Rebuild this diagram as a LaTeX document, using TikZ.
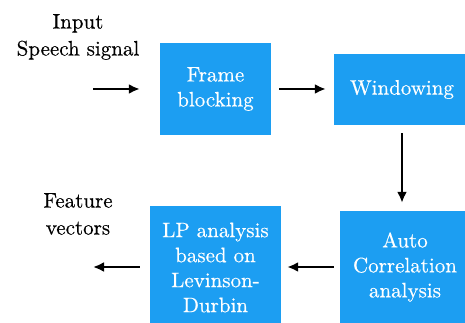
\documentclass[tikz,border=0pt]{standalone}
\usepackage{fontspec}
\newfontfamily\diagfont{lmroman10-regular.otf}[FakeBold=0.4]
\usetikzlibrary{arrows.meta}
\definecolor{blockblue}{RGB}{28,158,242}
\tikzset{
  block/.style={fill=blockblue, draw=none, text=white, align=center,
    inner sep=0pt, font=\diagfont\fontsize{21}{25}\selectfont},
  label/.style={text=black, align=center, inner sep=0pt,
    font=\diagfont\fontsize{21}{27}\selectfont},
  flow/.style={line width=2.2pt, -{Latex[length=11pt,width=10pt]}}
}
\begin{document}
\begin{tikzpicture}[x=1pt,y=-1pt]
  \useasboundingbox (0,0) rectangle (465,323);
  \clip (0,0) rectangle (465,323);
  % processing blocks
  \node[block, minimum width=111pt, minimum height=92pt] (frame) at (215.5,89) {Frame\\blocking};
  \node[block, minimum width=136pt, minimum height=71pt] (window) at (402,89.5) {Windowing};
  \node[block, minimum width=130pt, minimum height=112pt] (auto) at (405,267) {Auto\\Correlation\\analysis};
  \node[block, minimum width=131pt, minimum height=123pt] (lp) at (215.5,267.5) {LP analysis\\based on\\Levinson-\\Durbin};
  % input and output labels
  \node[label] (inlabel) at (78,37) {Input\\Speech signal};
  \node[label] (outlabel) at (78,214) {Feature\\vectors};
  \coordinate (in) at (93,89);
  \coordinate (out) at (93,267);
  % signal flow
  \draw[flow, shorten >=20pt] (in) -- (frame.west);
  \draw[flow, shorten <=8pt, shorten >=8pt] (frame.east) -- (frame.east -| window.west);
  \draw[flow, shorten <=8pt, shorten >=8pt] (window.south) -- (window.south |- auto.north);
  \draw[flow, shorten <=6pt, shorten >=6pt] (auto.west) -- (auto.west -| lp.east);
  \draw[flow, shorten <=10pt] (lp.west |- out) -- (out);
\end{tikzpicture}
\end{document}
